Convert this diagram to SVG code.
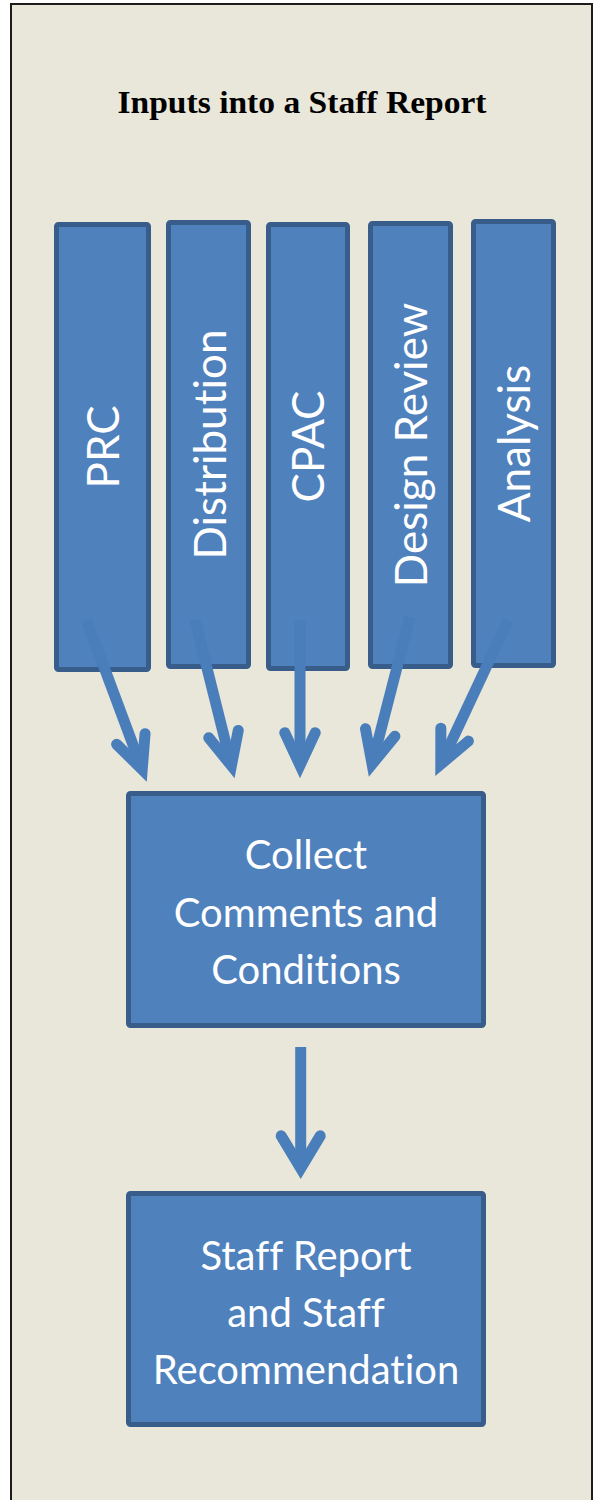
<svg xmlns="http://www.w3.org/2000/svg" width="593" height="1500" viewBox="0 0 593 1500">
<defs>
<style>
.frame{fill:#E9E6DA;stroke:#1c1c1c;stroke-width:2}
.box{fill:#4F81BD;stroke:#385D8A;stroke-width:5}
.lbl{fill:#FFFFFF;font-family:Lato,"Open Sans",sans-serif;font-size:40px;text-anchor:middle;font-variant-ligatures:none}
.vlbl{fill:#FFFFFF;font-family:Lato,"Open Sans",sans-serif;font-size:44px;text-anchor:middle;font-variant-ligatures:none}
.title{fill:#000000;font-family:"Liberation Serif",serif;font-weight:bold;font-size:32px;text-anchor:middle;font-variant-ligatures:none}
.arrow{fill:none;stroke:#4A7EBB;stroke-width:11}
.head{fill:none;stroke:#4A7EBB;stroke-width:11;stroke-linecap:round;stroke-linejoin:miter;stroke-miterlimit:10}
</style>
<marker id="chev" markerUnits="userSpaceOnUse" orient="auto" refX="0" refY="0" markerWidth="80" markerHeight="80" viewBox="-50 -40 80 80" overflow="visible">
<path class="head" d="M-32.6,-15.2 L0,0 L-32.6,15.2"/>
</marker>
<marker id="chev2" markerUnits="userSpaceOnUse" orient="auto" refX="0" refY="0" markerWidth="80" markerHeight="80" viewBox="-50 -40 80 80" overflow="visible">
<path class="head" d="M-32.5,-19.5 L0,0 L-32.5,19.5"/>
</marker>
</defs>
<rect class="frame" x="11" y="4" width="581" height="1510"/>
<text class="title" x="302" y="113" textLength="369" lengthAdjust="spacingAndGlyphs">Inputs into a Staff Report</text>

<g id="prc"><rect class="box" x="56.5" y="224.5" width="92" height="445" rx="2"/>
<text class="vlbl" transform="translate(102.5,447) rotate(-90)" y="16">PRC</text></g>
<g id="distribution"><rect class="box" x="168.5" y="222.5" width="80" height="444" rx="2"/>
<text class="vlbl" transform="translate(208.5,444.5) rotate(-90)" y="17">Distribution</text></g>
<g id="cpac"><rect class="box" x="268.5" y="224.5" width="79" height="444" rx="2"/>
<text class="vlbl" transform="translate(308,446.5) rotate(-90)" y="16">CPAC</text></g>
<g id="design-review"><rect class="box" x="370.5" y="223.5" width="80" height="443" rx="2"/>
<text class="vlbl" transform="translate(410.5,445) rotate(-90)" y="16">Design Review</text></g>
<g id="analysis"><rect class="box" x="473.5" y="221.5" width="80" height="444" rx="2"/>
<text class="vlbl" transform="translate(513.5,443.5) rotate(-90)" y="16">Analysis</text></g>

<g id="collect"><rect class="box" x="128.5" y="793.5" width="355" height="232" rx="2"/>
<text class="lbl" x="306" y="869">Collect</text>
<text class="lbl" x="306" y="927">Comments and</text>
<text class="lbl" x="306" y="984">Conditions</text></g>

<g id="staff-report"><rect class="box" x="128.5" y="1193.5" width="355" height="231" rx="2"/>
<text class="lbl" x="306" y="1270">Staff Report</text>
<text class="lbl" x="306" y="1327">and Staff</text>
<text class="lbl" x="306" y="1384">Recommendation</text></g>

<g id="connectors">
<line class="arrow" x1="86.5" y1="620" x2="142.2" y2="769.5" marker-end="url(#chev)"/>
<line class="arrow" x1="195" y1="620" x2="231.4" y2="765.7" marker-end="url(#chev)"/>
<line class="arrow" x1="300" y1="620" x2="300" y2="765.3" marker-end="url(#chev)"/>
<line class="arrow" x1="410" y1="616.7" x2="372.1" y2="764.1" marker-end="url(#chev)"/>
<line class="arrow" x1="508.3" y1="620" x2="440.8" y2="764.2" marker-end="url(#chev)"/>
<line class="arrow" x1="300.7" y1="1047" x2="300.7" y2="1168.3" marker-end="url(#chev2)"/>
</g>
</svg>
